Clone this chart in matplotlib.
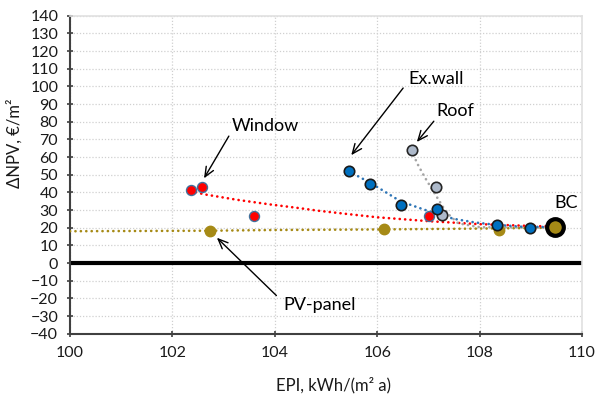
import numpy as np
import matplotlib
matplotlib.use("Agg")
import matplotlib.pyplot as plt

plt.rcParams['font.family'] = ['Lato', 'DejaVu Sans']

# measure points (EPI, dNPV)
win_x = [102.36, 102.58, 103.59, 107.02]
win_y = [41.3, 42.8, 26.8, 26.8]
wall_x = [105.44, 105.86, 106.46, 107.17, 108.34, 108.99]
wall_y = [52.1, 45.0, 33.0, 30.5, 21.5, 20.1]
roof_x = [106.68, 107.15, 107.26]
roof_y = [64.1, 42.8, 27.3]
pv_x = [102.74, 106.13, 108.38]
pv_y = [18.3, 19.0, 18.8]
bc_x = [109.47]
bc_y = [20.6]

# dotted trend lines
win_tr_x = [102.36, 102.6, 103.26, 103.9, 104.5, 104.85, 105.4, 106.0, 107.0, 108.0, 109.0, 109.47]
win_tr_y = [41.0, 39.0, 35.8, 33.2, 31.0, 29.6, 27.8, 25.9, 23.7, 22.0, 21.0, 20.6]
wall_tr_x = [105.44, 105.86, 106.2, 106.45, 106.84, 107.2, 107.5, 107.9, 108.3, 108.8, 109.47]
wall_tr_y = [52.0, 45.5, 39.5, 35.0, 31.0, 27.5, 25.0, 23.0, 21.7, 20.6, 20.3]
roof_tr_x = [106.68, 106.77, 106.93, 107.13, 107.29, 107.42, 107.58, 108.0, 109.47]
roof_tr_y = [64.0, 57.0, 48.5, 39.0, 31.5, 26.8, 22.5, 20.3, 20.0]
pv_tr_x = [100.0, 102.74, 104.0, 106.0, 108.0, 109.47]
pv_tr_y = [18.0, 18.3, 18.7, 19.0, 19.5, 20.0]

red = '#FF0000'
blue = '#0070C0'
blue_ln = '#2E75B6'
grey = '#ADB9CA'
grey_ln = '#A5A5A5'
gold = '#A68A16'

fig = plt.figure(figsize=(5.95, 3.97), dpi=100)
ax = fig.add_axes([70/595, (397-333.7)/397, 512/595, 318/397])

dot = dict(linestyle=(0, (0.05, 2.0)), linewidth=1.9, dash_capstyle='round')
ax.plot(pv_tr_x, pv_tr_y, color=gold, **dot, zorder=3)
ax.plot(win_tr_x, win_tr_y, color=red, **dot, zorder=3)
ax.plot(roof_tr_x, roof_tr_y, color=grey_ln, **dot, zorder=3)
ax.plot(wall_tr_x, wall_tr_y, color=blue_ln, **dot, zorder=3)

ax.axhline(0, color='black', lw=3, zorder=2)

ax.plot(bc_x, bc_y, 'o', ms=12, mfc=gold, mec='black', mew=3, zorder=4)
ax.plot(pv_x, pv_y, 'o', ms=7.5, mfc=gold, mec=gold, zorder=5)
ax.plot(win_x, win_y, 'o', ms=7.2, mfc=red, mec='#41719C', mew=1, zorder=5)
ax.plot(roof_x, roof_y, 'o', ms=7.5, mfc=grey, mec='#262626', mew=1.2, zorder=5)
ax.plot(wall_x, wall_y, 'o', ms=7.5, mfc=blue, mec='#1a1a1a', mew=1.2, zorder=5)

ax.set_xlim(100, 110)
ax.set_ylim(-40, 140)
ax.set_xticks(np.arange(100, 111, 2))
ax.set_yticks(np.arange(-40, 141, 10))
ax.grid(True, color='#D0D0D0', linestyle=(0, (1, 1.5)), linewidth=0.9, zorder=0)
ax.set_axisbelow(True)

for s in ['left', 'bottom']:
    ax.spines[s].set_color('#404040')
    ax.spines[s].set_linewidth(1.5)
for s in ['top', 'right']:
    ax.spines[s].set_color('#E0E0E0')
    ax.spines[s].set_linewidth(1.2)
ax.tick_params(direction='inout', length=5, width=1.2, color='#404040',
               labelsize=11.5, labelcolor='#1a1a1a', pad=6)

ax.set_ylabel('ΔNPV, €/m²', fontsize=12, color='#1a1a1a')
ax.yaxis.set_label_coords(-0.092, 0.60)
ax.set_xlabel('EPI, kWh/(m² a)', fontsize=12, color='#1a1a1a')
ax.xaxis.set_label_coords(0.514, -0.161)
ax.xaxis.label.set_va('center')

tfs = 13
ax.text(103.16, 77.7, 'Window', fontsize=tfs, va='center')
ax.text(106.60, 104.3, 'Ex.wall', fontsize=tfs, va='center')
ax.text(107.16, 86.2, 'Roof', fontsize=tfs, va='center')
ax.text(104.17, -23.6, 'PV-panel', fontsize=tfs, va='center')
ax.text(109.47, 33.7, 'BC', fontsize=tfs, va='center')

arr = dict(arrowstyle='->,head_length=0.7,head_width=0.3', color='black', lw=1)
ax.annotate('', xy=(102.59, 46.6), xytext=(103.13, 73.2), arrowprops=arr)
ax.annotate('', xy=(105.46, 59.8), xytext=(106.54, 100.3), arrowprops=arr)
ax.annotate('', xy=(106.74, 67.3), xytext=(107.14, 81.5), arrowprops=arr)
ax.annotate('', xy=(102.83, 15.4), xytext=(104.07, -19.5), arrowprops=arr)

fig.savefig('out.png', dpi=100)
